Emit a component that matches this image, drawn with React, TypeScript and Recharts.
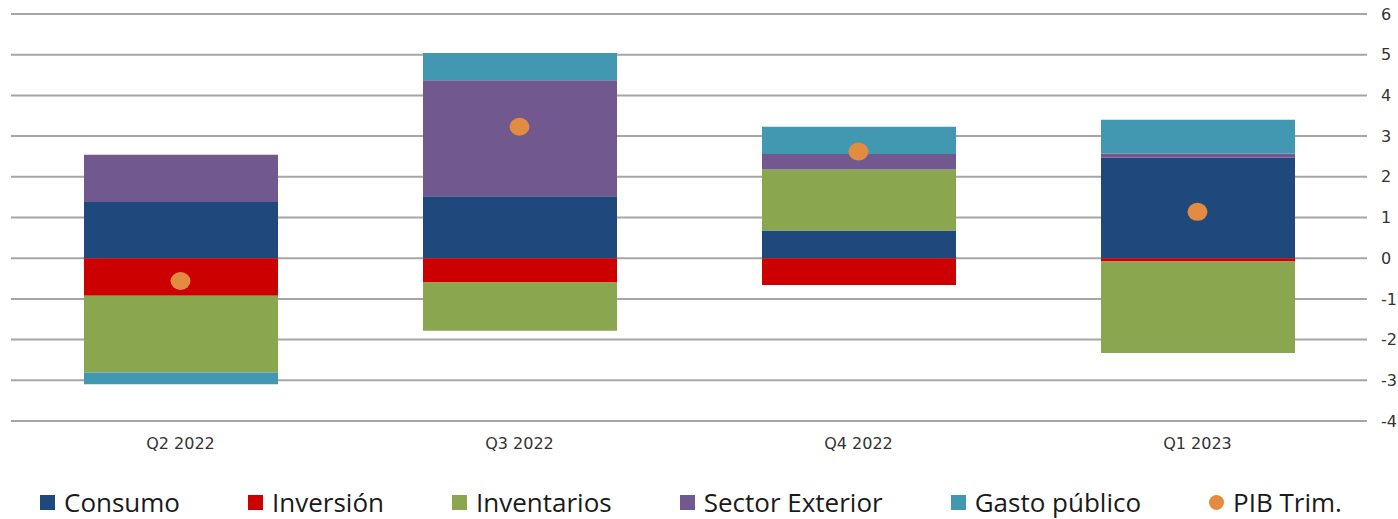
import {
  ComposedChart,
  Bar,
  Scatter,
  XAxis,
  YAxis,
  CartesianGrid,
  Legend,
} from "recharts";

const categories = ["Q2 2022", "Q3 2022", "Q4 2022", "Q1 2023"];
const consumo = [1.38, 1.52, 0.68, 2.47];
const inversion = [-0.92, -0.6, -0.66, -0.08];
const inventarios = [-1.89, -1.18, 1.5, -2.25];
const sectorExterior = [1.16, 2.85, 0.38, 0.1];
const gastoPublico = [-0.29, 0.67, 0.67, 0.83];
const pibTrim = [-0.56, 3.23, 2.62, 1.14];
const yTicks = [-4, -3, -2, -1, 0, 1, 2, 3, 4, 5, 6];

const COLORS = {
  consumo: "#1f497d",
  inversion: "#cc0000",
  inventarios: "#8aa64e",
  sectorExterior: "#71588f",
  gastoPublico: "#4298b0",
  pibTrim: "#e38b40",
};

const data = categories.map((cat, i) => ({
  cat,
  consumo: consumo[i],
  inversion: inversion[i],
  inventarios: inventarios[i],
  sectorExterior: sectorExterior[i],
  gastoPublico: gastoPublico[i],
  pibTrim: pibTrim[i],
}));

const legendItems = [
  { label: "Consumo", color: COLORS.consumo, dot: false },
  { label: "Inversión", color: COLORS.inversion, dot: false },
  { label: "Inventarios", color: COLORS.inventarios, dot: false },
  { label: "Sector Exterior", color: COLORS.sectorExterior, dot: false },
  { label: "Gasto público", color: COLORS.gastoPublico, dot: false },
  { label: "PIB Trim.", color: COLORS.pibTrim, dot: true },
];

function ChartLegend() {
  return (
    <div
      style={{
        display: "flex",
        alignItems: "center",
        height: 30,
        paddingLeft: 40,
        gap: 68,
        fontFamily: "'Open Sans', sans-serif",
        fontSize: 26,
        lineHeight: "30px",
        color: "#1a1a1a",
        whiteSpace: "nowrap",
      }}
    >
      {legendItems.map((item) => (
        <div key={item.label} style={{ display: "flex", alignItems: "center" }}>
          <span
            style={{
              display: "inline-block",
              width: 15,
              height: 15,
              marginRight: 9,
              background: item.color,
              borderRadius: item.dot ? "50%" : 0,
            }}
          />
          <span>{item.label}</span>
        </div>
      ))}
    </div>
  );
}

const tickStyle = {
  fontFamily: "'DejaVu Sans', sans-serif",
  fontSize: 16,
  fill: "#333333",
};

export default function App() {
  return (
    <div
      style={{
        position: "fixed",
        left: 0,
        top: 0,
        width: 1398,
        height: 519,
        overflow: "hidden",
        background: "#fff",
      }}
    >
      <ComposedChart
        width={1430}
        height={519}
        data={data}
        stackOffset="sign"
        margin={{ top: 14, right: 10, bottom: 38, left: 11 }}
      >
        <CartesianGrid vertical={false} stroke="#a6a6a6" strokeWidth={2} />
        <XAxis
          dataKey="cat"
          axisLine={false}
          tickLine={false}
          tickMargin={11}
          height={30}
          tick={tickStyle}
        />
        <YAxis
          orientation="right"
          domain={[-4, 6]}
          ticks={yTicks}
          axisLine={false}
          tickLine={false}
          tickMargin={8}
          width={53}
          tick={tickStyle}
        />
        <Legend
          verticalAlign="bottom"
          content={() => <ChartLegend />}
          wrapperStyle={{ top: 487, bottom: "auto", left: 0, width: 1398 }}
        />
        <Bar dataKey="consumo" stackId="a" fill={COLORS.consumo} barSize={194} isAnimationActive={false} />
        <Bar dataKey="inversion" stackId="a" fill={COLORS.inversion} barSize={194} isAnimationActive={false} />
        <Bar dataKey="inventarios" stackId="a" fill={COLORS.inventarios} barSize={194} isAnimationActive={false} />
        <Bar dataKey="sectorExterior" stackId="a" fill={COLORS.sectorExterior} barSize={194} isAnimationActive={false} />
        <Bar dataKey="gastoPublico" stackId="a" fill={COLORS.gastoPublico} barSize={194} isAnimationActive={false} />
        <Scatter
          dataKey="pibTrim"
          fill={COLORS.pibTrim}
          isAnimationActive={false}
          shape={(props: any) => (
            <ellipse cx={props.cx} cy={props.cy} rx={10} ry={9} fill={COLORS.pibTrim} />
          )}
        />
      </ComposedChart>
    </div>
  );
}
